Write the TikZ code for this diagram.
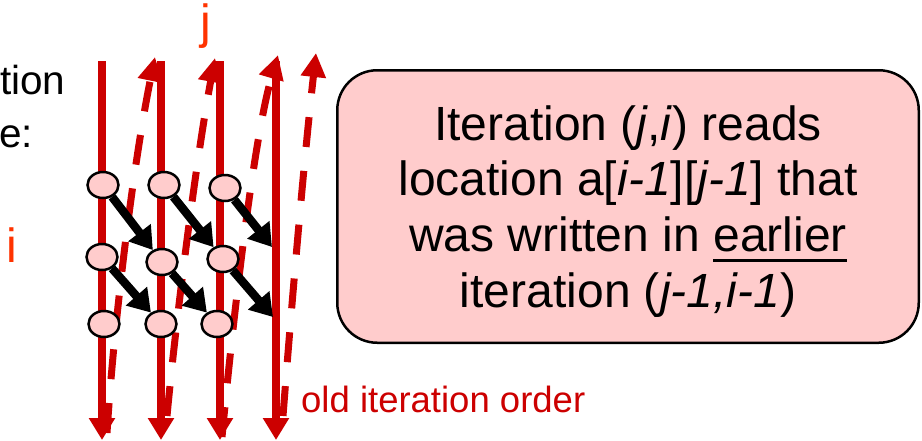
\documentclass[tikz,border=0pt]{standalone}
\usepackage{fontspec}
\setmainfont{Liberation Sans}
\usetikzlibrary{arrows.meta,shapes.geometric}
\definecolor{orderred}{HTML}{CC0000}
\definecolor{axisred}{HTML}{FF3300}
\definecolor{cellpink}{HTML}{FFCCCC}
% underline drawn a fixed distance below the baseline
\newcommand\ulword[1]{\setbox0\hbox{#1}\rlap{\rule[-11pt]{\wd0}{3pt}}\box0}
\begin{document}
\begin{tikzpicture}[x=1pt,y=-1pt,
  neworder/.style={draw=orderred, line width=8pt, -{Triangle[width=25pt,length=22pt]}},
  oldorder/.style={draw=orderred, line width=7pt, dash pattern=on 30pt off 24pt,
    -{Triangle[width=24pt,length=24pt]}},
  iter/.style={ellipse, draw=black, line width=2.5pt, fill=cellpink,
    minimum width=31pt, minimum height=26pt, inner sep=0pt},
  dep/.style={draw=black, line width=8.5pt, -{Triangle[width=27pt,length=22pt]}},
  note/.style={rectangle, rounded corners=40pt, draw=black, line width=2.5pt, fill=cellpink,
    minimum width=581.5pt, minimum height=272.5pt, inner sep=0pt},
  notetext/.style={anchor=base, inner sep=0pt, font=\fontsize{48}{56}\selectfont},
  sidetext/.style={anchor=base west, inner sep=0pt, font=\fontsize{40.5}{48}\selectfont},
  axis/.style={anchor=base, inner sep=0pt, text=axisred, font=\fontsize{48}{56}\selectfont},
  caption/.style={anchor=base west, inner sep=0pt, text=orderred, font=\fontsize{36.5}{44}\selectfont}
]
\useasboundingbox (0,0) rectangle (922,440);

% ends of the solid (new order) columns
\coordinate (s1t) at (102,61);  \coordinate (s1b) at (102,440);
\coordinate (s2t) at (161,61);  \coordinate (s2b) at (161,440);
\coordinate (s3t) at (220,61);  \coordinate (s3b) at (220,440);
\coordinate (s4t) at (276,61);  \coordinate (s4b) at (276,440);

% ends of the dashed (old order) sweeps
\coordinate (d1b) at (107,433); \coordinate (d1t) at (155,57);
\coordinate (d2b) at (167,416); \coordinate (d2t) at (215,58);
\coordinate (d3b) at (222,437); \coordinate (d3t) at (278,55);
\coordinate (d4b) at (283,416); \coordinate (d4t) at (316,53);

% old iteration order
\draw[oldorder] (d1b) .. controls (114,320) and (134,160) .. (d1t);
\draw[oldorder] (d2b) .. controls (176,320) and (196,160) .. (d2t);
\draw[oldorder] (d3b) .. controls (232,330) and (253,140) .. (d3t);
\draw[oldorder] (d4b) .. controls (292,300) and (304,160) .. (d4t);

% new iteration order
\draw[neworder] (s1t) -- (s1b);
\draw[neworder] (s2t) -- (s2b);
\draw[neworder] (s3t) -- (s3b);
\draw[neworder] (s4t) -- (s4b);

% iterations
\node[iter] (c11) at (103,185) {};
\node[iter] (c12) at (164,185) {};
\node[iter] (c13) at (225,188) {};
\node[iter] (c21) at (102,257) {};
\node[iter] (c22) at (162,262) {};
\node[iter] (c23) at (223,259) {};
\node[iter] (c31) at (104,324) {};
\node[iter] (c32) at (161,324) {};
\node[iter] (c33) at (217,324) {};
\coordinate (e2) at (272,247);
\coordinate (e3) at (273,317);

% dependences
\draw[dep] (c11) -- (c22);
\draw[dep] (c12) -- (c23);
\draw[dep] (c13) -- (e2);
\draw[dep] (c21) -- (c32);
\draw[dep] (c22) -- (c33);
\draw[dep] (c23) -- (e3);

% labels
\node[axis] (jlab) at (206,38) {j};
\node[axis] (ilab) at (11.5,262) {i};
\node[sidetext] (side1) at (0,94) {tion};
\node[sidetext] (side2) at (-1,147) {e:};
\node[caption] (old) at (301,412) {old iteration order};

% explanation box
\node[note] (box) at (628,206.5) {};
\node[notetext] (t1) at (628,140) {Iteration (\textit{j},\textit{i}) reads};
\node[notetext] (t2) at (628,195.7) {location a[\textit{i-1}][\textit{j-1}] that};
\node[notetext] (t3) at (628,251.4) {was written in \ulword{earlier}};
\node[notetext] (t4) at (628,307) {iteration (\textit{j-1,i-1})};
\end{tikzpicture}
\end{document}
